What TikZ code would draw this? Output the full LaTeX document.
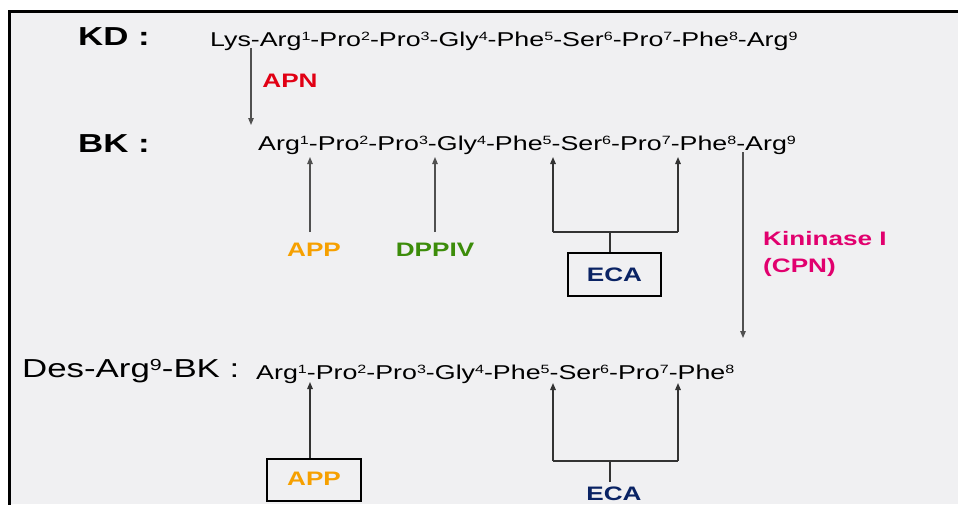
\documentclass[tikz,border=0pt]{standalone}
\usepackage{fontspec}
\setmainfont{Liberation Sans}[FakeStretch=1.34]
\usetikzlibrary{arrows.meta}
\definecolor{bgray}{RGB}{240,240,242}
\definecolor{apnred}{RGB}{225,0,20}
\definecolor{apporange}{RGB}{246,160,0}
\definecolor{dppgreen}{RGB}{60,140,10}
\definecolor{ecanavy}{RGB}{10,35,100}
\definecolor{kinmag}{RGB}{225,0,110}
\definecolor{lgray}{RGB}{80,80,80}
\newcommand\sps[1]{\raisebox{5.5pt}{\fontsize{12}{12}\selectfont #1}}
\begin{document}
\begin{tikzpicture}[x=1pt,y=-1pt,
  seq/.style={anchor=base west,inner sep=0pt,font=\fontsize{20}{24}\selectfont},
  title/.style={anchor=base west,inner sep=0pt,font=\fontsize{26}{30}\selectfont},
  enz/.style={inner sep=0pt,font=\bfseries\fontsize{19.5}{27}\selectfont},
  ebox/.style={draw=black,line width=2.4pt,inner sep=0pt},
  arr/.style={draw=lgray,line width=1.1pt,-{Triangle[length=7pt,width=5.5pt]}},
  darr/.style={draw=black!80,line width=1.4pt,-{Triangle[length=7pt,width=5.5pt]}},
  brk/.style={draw=black!80,line width=1.4pt}]
\useasboundingbox (0,0) rectangle (958,504);
% background and frame
\fill[white] (0,0) rectangle (958,504);
\fill[bgray] (9,11.5) rectangle (958,504);
\draw[line width=3pt] (9,510) -- (9,11.5) -- (962,11.5);

% row labels
\node[title,font=\bfseries\fontsize{26}{30}\selectfont] (kd) at (78,45) {KD :};
\node[title,font=\bfseries\fontsize{26}{30}\selectfont] (bk) at (78,152) {BK :};
\node[title] (des) at (22,377) {Des-Arg\raisebox{7pt}{\fontsize{16}{16}\selectfont 9}-BK :};

% sequences
\node[seq] (kdseq) at (210,46) {Lys-Arg\sps{1}-Pro\sps{2}-Pro\sps{3}-Gly\sps{4}-Phe\sps{5}-Ser\sps{6}-Pro\sps{7}-Phe\sps{8}-Arg\sps{9}};
\node[seq] (bkseq) at (258,150) {Arg\sps{1}-Pro\sps{2}-Pro\sps{3}-Gly\sps{4}-Phe\sps{5}-Ser\sps{6}-Pro\sps{7}-Phe\sps{8}-Arg\sps{9}};
\node[seq] (desseq) at (256,379) {Arg\sps{1}-Pro\sps{2}-Pro\sps{3}-Gly\sps{4}-Phe\sps{5}-Ser\sps{6}-Pro\sps{7}-Phe\sps{8}};

% cleavage points
\coordinate (kdcut) at (251,48);
\coordinate (kdend) at (251,125);
\coordinate (b1) at (310,157);
\coordinate (b3) at (435,157);
\coordinate (b5) at (553,157);
\coordinate (b7) at (678,157);
\coordinate (b8) at (743,152);
\coordinate (d1) at (310,382);
\coordinate (d5) at (553,383);
\coordinate (d7) at (678,383);
\coordinate (kinend) at (743,338);

% enzymes
\node[enz,text=apnred] (apn) at (290,81) {APN};
\node[enz,text=apporange] (appT) at (314,250) {APP};
\node[enz,text=dppgreen] (dpp) at (435,250) {DPPIV};
\node[ebox,minimum width=93pt,minimum height=43pt] (ecaT) at (614.5,274.5) {};
\node[enz,text=ecanavy] (ecaTt) at (614.5,275) {ECA};
\node[enz,text=kinmag,align=left,anchor=west] (kin) at (763,253.5) {Kininase I\\(CPN)};
\node[ebox,minimum width=94pt,minimum height=42pt] (appB) at (314,480) {};
\node[enz,text=apporange] (appBt) at (314,479) {APP};
\node[enz,text=ecanavy] (ecaB) at (614,494) {ECA};

% arrows
\draw[arr] (kdcut) -- (kdend);
\draw[arr] (b1 |- 0,232) -- (b1);
\draw[arr] (b3 |- 0,232) -- (b3);
\draw[darr] (b5 |- 0,232) -- (b5);
\draw[darr] (b7 |- 0,232) -- (b7);
\draw[brk] (b5 |- 0,232) -- (b7 |- 0,232);
\draw[brk] (ecaT.north -| 610,0) -- (610,232);
\draw[arr] (b8) -- (kinend);
\draw[darr] (appB.north -| d1) -- (d1);
\draw[darr] (d5 |- 0,461) -- (d5);
\draw[darr] (d7 |- 0,461) -- (d7);
\draw[brk] (d5 |- 0,461) -- (d7 |- 0,461);
\draw[brk] (610,461) -- (610,482);
\end{tikzpicture}
\end{document}
